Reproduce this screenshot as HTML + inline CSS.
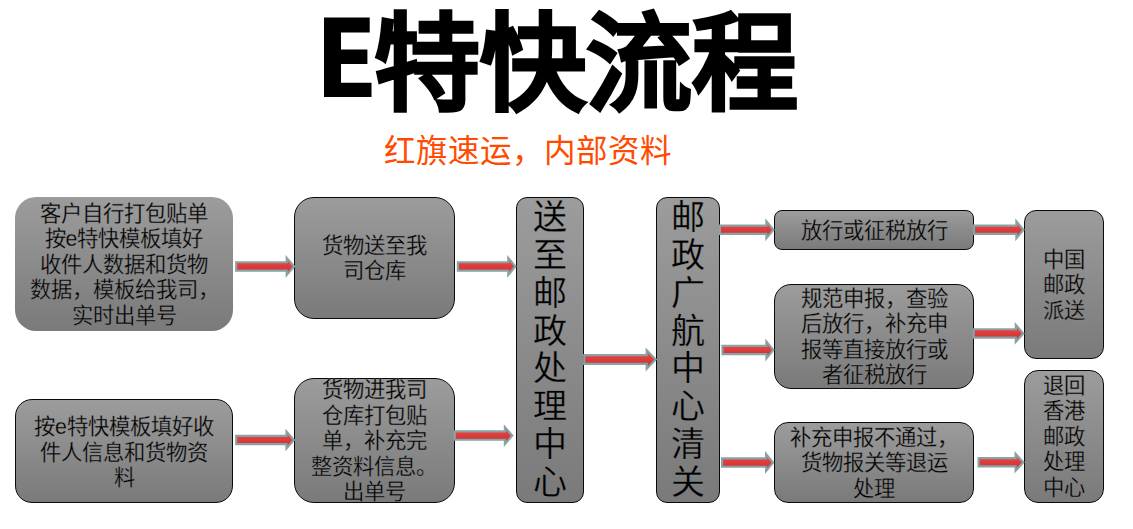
<!DOCTYPE html><html lang="zh-CN"><head><meta charset="utf-8"><style>
*{margin:0;padding:0;box-sizing:border-box}
html,body{width:1133px;height:529px;overflow:hidden;background:#fff}
body{position:relative;font-family:"Liberation Sans",sans-serif;color:#000}
.b{position:absolute;background:linear-gradient(#9c9c9c,#7a7a7a);display:flex;align-items:center;justify-content:center;text-align:center;font-size:21.33px;line-height:25.5px;color:#000;white-space:nowrap;-webkit-text-stroke:0.3px #8a8a8a}
.bd{border:1.6px solid #0a0a0a}
.t{position:absolute;left:0;width:1133px;text-align:center;white-space:nowrap}
</style></head><body>
<svg style="position:absolute;left:0;top:0" width="400" height="120"><path d="M324,17.5H369.7V32.5H341V49.5H367.4V63.9H341V82.7H371.5V97.1H324Z" fill="#000"/></svg>
<div style="position:absolute;left:374px;top:-1px;font-size:106px;line-height:130px;font-weight:bold;white-space:nowrap;-webkit-text-stroke:2.2px #000">特快流程</div>
<div style="position:absolute;left:384px;top:131px;font-size:31.5px;line-height:40px;color:#ff4a00;white-space:nowrap">红旗速运，内部资料</div>
<div class="b" style="left:15px;top:197px;width:218px;height:134px;border-radius:21px"><div style="position:relative;top:1.5px">客户自行打包贴单<br>按e特快模板填好<br>收件人数据和货物<br>数据，模板给我司，<br>实时出单号</div></div>
<div class="b bd" style="left:294px;top:197px;width:160.5px;height:121.5px;border-radius:20px"><div style="position:relative;top:1.5px">货物送至我<br>司仓库</div></div>
<div class="b bd" style="left:15px;top:399px;width:218px;height:103.5px;border-radius:17px"><div style="position:relative;top:2.5px">按e特快模板填好收<br>件人信息和货物资<br>料</div></div>
<div class="b bd" style="left:294px;top:378px;width:160.5px;height:124.5px;border-radius:20px"><div style="position:relative;top:1.5px">货物进我司<br>仓库打包贴<br>单，补充完<br>整资料信息。<br>出单号</div></div>
<div class="b bd" style="left:774px;top:210px;width:200px;height:40px;border-radius:8px"><div style="position:relative;top:1.5px">放行或征税放行</div></div>
<div class="b bd" style="left:774px;top:283.5px;width:200px;height:105.0px;border-radius:17px"><div style="position:relative;top:1.5px">规范申报，查验<br>后放行，补充申<br>报等直接放行或<br>者征税放行</div></div>
<div class="b bd" style="left:774px;top:422px;width:200px;height:80.5px;border-radius:14px"><div style="position:relative;top:1.5px">补充申报不通过，<br>货物报关等退运<br>处理</div></div>
<div class="b bd" style="left:1024px;top:210px;width:80px;height:148.5px;border-radius:12px"><div style="position:relative;top:1.5px">中国<br>邮政<br>派送</div></div>
<div class="b bd" style="left:1024px;top:369.5px;width:80px;height:133.0px;border-radius:14px"><div style="position:relative;top:1.5px">退回<br>香港<br>邮政<br>处理<br>中心</div></div>
<div class="b bd" style="left:516px;top:197px;width:68px;height:305.5px;border-radius:11px;font-size:34px;line-height:37.9px"><div style="position:relative;top:0.7px">送<br>至<br>邮<br>政<br>处<br>理<br>中<br>心</div></div>
<div class="b bd" style="left:655.5px;top:197px;width:64.5px;height:305.5px;border-radius:11px;font-size:34px;line-height:37.9px"><div style="position:relative;top:0.7px">邮<br>政<br>广<br>航<br>中<br>心<br>清<br>关</div></div>
<svg style="position:absolute;left:0;top:0" width="1133" height="529" viewBox="0 0 1133 529"><defs><linearGradient id="rg" x1="0" y1="0" x2="0" y2="1"><stop offset="0" stop-color="#fb4646"/><stop offset="1" stop-color="#bf3030"/></linearGradient></defs><polygon points="236.20,262.25 286.70,262.25 286.70,257.95 294.15,266.40 286.70,274.85 286.70,270.55 236.20,270.55" fill="url(#rg)" stroke="#87a3a6" stroke-width="2.2" stroke-linejoin="miter"/><polygon points="457.90,262.25 508.30,262.25 508.30,257.95 515.25,266.40 508.30,274.85 508.30,270.55 457.90,270.55" fill="url(#rg)" stroke="#87a3a6" stroke-width="2.2" stroke-linejoin="miter"/><polygon points="236.20,435.85 286.50,435.85 286.50,431.55 293.95,440.00 286.50,448.45 286.50,444.15 236.20,444.15" fill="url(#rg)" stroke="#87a3a6" stroke-width="2.2" stroke-linejoin="miter"/><polygon points="454.70,431.45 504.90,431.45 504.90,427.15 512.25,435.60 504.90,444.05 504.90,439.75 454.70,439.75" fill="url(#rg)" stroke="#87a3a6" stroke-width="2.2" stroke-linejoin="miter"/><polygon points="584.20,355.10 646.70,355.10 646.70,350.30 655.65,359.50 646.70,368.70 646.70,363.90 584.20,363.90" fill="url(#rg)" stroke="#87a3a6" stroke-width="2.2" stroke-linejoin="miter"/><polygon points="719.90,225.65 766.40,225.65 766.40,221.35 773.45,229.80 766.40,238.25 766.40,233.95 719.90,233.95" fill="url(#rg)" stroke="#87a3a6" stroke-width="2.2" stroke-linejoin="miter"/><polygon points="722.50,345.85 766.40,345.85 766.40,341.55 773.35,350.00 766.40,358.45 766.40,354.15 722.50,354.15" fill="url(#rg)" stroke="#87a3a6" stroke-width="2.2" stroke-linejoin="miter"/><polygon points="722.10,458.45 766.10,458.45 766.10,454.15 773.05,462.60 766.10,471.05 766.10,466.75 722.10,466.75" fill="url(#rg)" stroke="#87a3a6" stroke-width="2.2" stroke-linejoin="miter"/><polygon points="974.00,225.65 1016.40,225.65 1016.40,221.35 1023.45,229.80 1016.40,238.25 1016.40,233.95 974.00,233.95" fill="url(#rg)" stroke="#87a3a6" stroke-width="2.2" stroke-linejoin="miter"/><polygon points="973.70,329.25 1015.80,329.25 1015.80,324.95 1023.35,333.40 1015.80,341.85 1015.80,337.55 973.70,337.55" fill="url(#rg)" stroke="#87a3a6" stroke-width="2.2" stroke-linejoin="miter"/><polygon points="978.60,458.15 1015.60,458.15 1015.60,453.85 1023.35,462.30 1015.60,470.75 1015.60,466.45 978.60,466.45" fill="url(#rg)" stroke="#87a3a6" stroke-width="2.2" stroke-linejoin="miter"/></svg>
</body></html>
